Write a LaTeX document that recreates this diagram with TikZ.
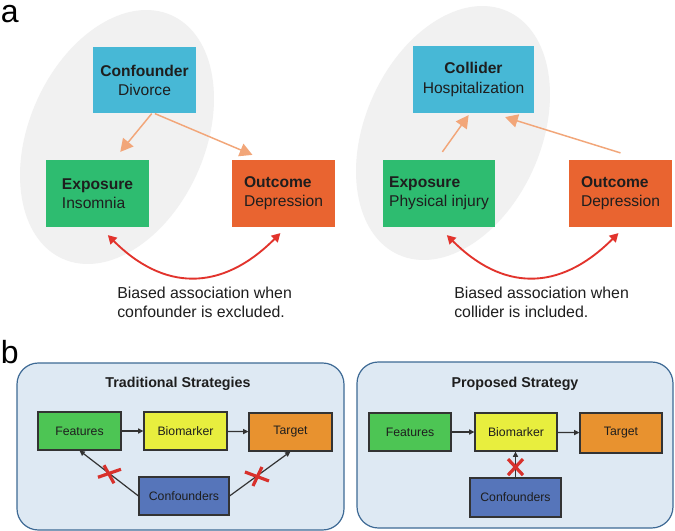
\documentclass[tikz,border=0pt]{standalone}
\usepackage{fontspec}
\setmainfont{Liberation Sans}
\usetikzlibrary{arrows.meta,calc}
\definecolor{cyanbox}{HTML}{47B8D6}
\definecolor{greena}{HTML}{2EBC70}
\definecolor{orangea}{HTML}{E96430}
\definecolor{orarr}{HTML}{F2A679}
\definecolor{reda}{HTML}{E2332C}
\definecolor{ellc}{HTML}{F1F1F1}
\definecolor{txtc}{HTML}{1E1E1E}
\definecolor{panelf}{HTML}{DEE9F3}
\definecolor{paneld}{HTML}{3E6A95}
\definecolor{greenb}{HTML}{4DC554}
\definecolor{yellowb}{HTML}{E8EE3E}
\definecolor{orangeb}{HTML}{E8922F}
\definecolor{blueb}{HTML}{5675BA}
\definecolor{darkl}{HTML}{333333}
\definecolor{redx}{HTML}{D8312C}
\begin{document}
\begin{tikzpicture}[x=0.75pt,y=-0.75pt,
  abox/.style={inner sep=0pt, text=txtc, font=\fontsize{11.7}{14.3}\selectfont, align=left, minimum height=50pt},
  orarrow/.style={draw=orarr, line width=1.1pt, -{Triangle[length=9.5pt,width=10pt]}},
  redarrow/.style={draw=reda, line width=1.4pt, {Triangle[length=6.5pt,width=7pt]}-{Triangle[length=6.5pt,width=7pt]}},
  lbl/.style={anchor=north west, align=left, text=txtc, font=\fontsize{11.9}{14.3}\selectfont, inner sep=0pt},
  panel/.style={draw=paneld, fill=panelf, line width=0.9pt, rounded corners=16pt, inner sep=0pt},
  ptitle/.style={anchor=base, font=\bfseries\fontsize{10.7}{13}\selectfont, text=txtc, inner sep=0pt},
  bbox/.style={draw=darkl, line width=0.8pt, inner sep=0pt, font=\fontsize{9.2}{11}\selectfont, text=txtc, minimum height=28.5pt},
  darr/.style={draw=darkl, line width=0.9pt, -{Triangle[length=4pt,width=3.8pt]}},
  xmark/.style={draw=redx, line width=2.4pt},
  plabel/.style={anchor=base west, inner sep=0pt, font=\fontsize{24}{28}\selectfont, text=black},
]
\useasboundingbox (0,0) rectangle (675,531);
\fill[white] (0,0) rectangle (675,531);

% ---------- panel a ----------
\node[plabel] (la) at (0.5,23) {a};

\fill[ellc, rotate around={66:(117,137)}] (117,137) ellipse [x radius=100pt, y radius=66pt];
\fill[ellc, rotate around={66:(453,133)}] (453,133) ellipse [x radius=100pt, y radius=66pt];

% left DAG
\node[abox, fill=cyanbox, minimum width=77.25pt, align=center] (conf) at (144.5,80) {\textbf{Confounder}\\Divorce};
\node[abox, fill=greena, minimum width=77.25pt] (expo) at (97.5,193.5) {\textbf{Exposure}\\Insomnia};
\node[abox, fill=orangea, minimum width=77.25pt] (outc) at (283.5,193.5) {\textbf{Outcome}\\Depression};

\draw[orarrow] ($(conf.south west)!0.57!(conf.south east)$) -- ($(expo.north west)!0.72!(expo.north east)+(0,-8)$);
\draw[orarrow] ($(conf.south west)!0.60!(conf.south east)$) -- ($(outc.north west)!0.2!(outc.north east)+(0,-5)$);

\draw[redarrow] ($(expo.south west)!0.6!(expo.south east)+(0,8)$) .. controls +(55,55) and +(-60,60) .. ($(outc.south west)!0.47!(outc.south east)+(0,6)$);

\node[lbl] (t1) at (117,287) {Biased association when\\confounder is excluded.};

% right DAG
\node[abox, fill=cyanbox, minimum width=90.75pt, align=center] (coll) at (473.5,79.5) {\textbf{Collider}\\Hospitalization};
\node[abox, fill=greena, minimum width=84pt] (expo2) at (439,193.5) {\textbf{Exposure}\\Physical injury};
\node[abox, fill=orangea, minimum width=77.25pt] (outc2) at (620.5,193.5) {\textbf{Outcome}\\Depression};

\draw[orarrow] ($(expo2.north west)!0.53!(expo2.north east)+(0,-8)$) -- ($(coll.south west)!0.46!(coll.south east)+(0,2)$);
\draw[orarrow] ($(outc2.north)+(0,-7)$) -- ($(coll.south west)!0.76!(coll.south east)+(0,4)$);

\draw[redarrow] ($(expo2.south west)!0.57!(expo2.south east)+(0,8)$) .. controls +(55,55) and +(-60,60) .. ($(outc2.south west)!0.48!(outc2.south east)+(0,6)$);

\node[lbl] (t2) at (454,287) {Biased association when\\collider is included.};

% ---------- panel b ----------
\node[plabel] (lb) at (0.5,363) {b};

\node[panel, minimum width=245.25pt, minimum height=125.25pt] (trad) at (180.5,446.5) {};
\node[panel, minimum width=237pt, minimum height=124.5pt] (prop) at (515,445) {};

\node[ptitle] (tt1) at (178,387) {Traditional Strategies};
\node[ptitle] (tt2) at (515,387) {Proposed Strategy};

% traditional
\node[bbox, fill=greenb, minimum width=62.25pt] (feat) at (79.5,431) {Features};
\node[bbox, fill=yellowb, minimum width=62.25pt] (bio) at (185.5,431) {Biomarker};
\node[bbox, fill=orangeb, minimum width=62.25pt] (targ) at (290.5,432) {Target};
\node[bbox, fill=blueb, minimum width=67.5pt] (bconf) at (184,496) {Confounders};

\draw[darr] (feat) -- (bio);
\draw[darr] (bio) -- (targ);
\draw[darr] (bconf.west) -- (feat.south);
\draw[darr] (bconf.east) -- (targ.south);

\path ($(bconf.west)!0.5!(feat.south)$) coordinate (x1);
\path ($(bconf.east)!0.45!(targ.south)$) coordinate (x2);
\draw[xmark] ($(x1)+(-11,4)$) -- ($(x1)+(12,-4)$);
\draw[xmark] ($(x1)+(-5,-8)$) -- ($(x1)+(5,10)$);
\draw[xmark] ($(x2)+(-12,-4)$) -- ($(x2)+(12,5)$);
\draw[xmark] ($(x2)+(5,-9)$) -- ($(x2)+(-4,10)$);

% proposed
\node[bbox, fill=greenb, minimum width=61.5pt] (feat2) at (410,432) {Features};
\node[bbox, fill=yellowb, minimum width=61.5pt] (bio2) at (516,432) {Biomarker};
\node[bbox, fill=orangeb, minimum width=61.5pt, minimum height=30pt] (targ2) at (621,433) {Target};
\node[bbox, fill=blueb, minimum width=68.25pt, minimum height=29.25pt] (bconf2) at (515.5,497.5) {Confounders};

\draw[darr] (feat2) -- (bio2);
\draw[darr] (bio2) -- (targ2);
\draw[darr] (bconf2.north) -- (bconf2.north |- bio2.south);

\path ($(bconf2.north)!0.4!(bconf2.north |- bio2.south)$) coordinate (x3);
\draw[xmark] ($(x3)+(-7.5,-8)$) -- ($(x3)+(7.5,8)$);
\draw[xmark] ($(x3)+(7.5,-8)$) -- ($(x3)+(-7.5,8)$);
\end{tikzpicture}
\end{document}
